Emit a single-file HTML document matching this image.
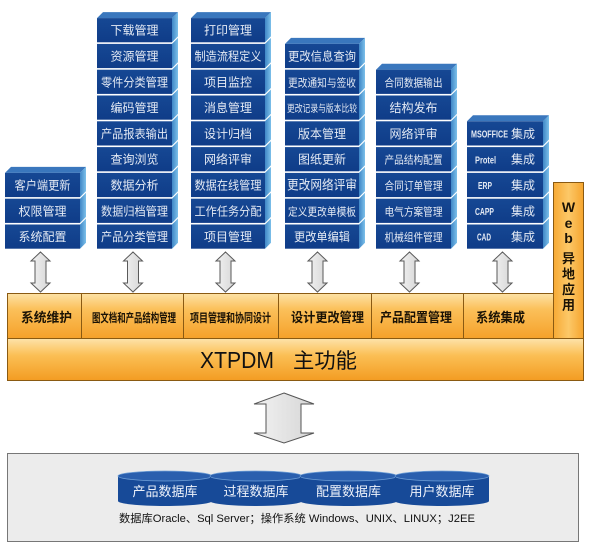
<!DOCTYPE html>
<html><head><meta charset="utf-8">
<style>
html,body{margin:0;padding:0;background:#fff;}
svg{display:block;}
text{font-family:"Liberation Sans","Noto Sans CJK SC",sans-serif;}
.b{fill:#e4eaf4;font-size:12px;text-anchor:middle;}
.m{fill:#1a1205;font-size:12px;font-weight:bold;text-anchor:middle;}
</style></head>
<body>
<svg width="600" height="547" viewBox="0 0 600 547" xmlns="http://www.w3.org/2000/svg">
<defs>
<linearGradient id="side" x1="0" y1="0" x2="1" y2="0"><stop offset="0" stop-color="#3f86c6"/><stop offset="1" stop-color="#7cc0ea"/></linearGradient>
<linearGradient id="front" x1="0" y1="0" x2="0" y2="1"><stop offset="0" stop-color="#164894"/><stop offset="1" stop-color="#0f3c88"/></linearGradient>
<linearGradient id="org" x1="0" y1="0" x2="0" y2="1"><stop offset="0" stop-color="#fde2a6"/><stop offset="0.35" stop-color="#fbc05a"/><stop offset="1" stop-color="#f5a12a"/></linearGradient>
<linearGradient id="org2" x1="0" y1="0" x2="0" y2="1"><stop offset="0" stop-color="#fde3aa"/><stop offset="0.4" stop-color="#fbbf55"/><stop offset="1" stop-color="#f39c22"/></linearGradient>
<linearGradient id="web" x1="0" y1="0" x2="1" y2="0"><stop offset="0" stop-color="#f7aa35"/><stop offset="0.5" stop-color="#fcc868"/><stop offset="1" stop-color="#f6a52e"/></linearGradient>
<linearGradient id="arr" x1="0" y1="0" x2="1" y2="0"><stop offset="0" stop-color="#f2f2f2"/><stop offset="1" stop-color="#d6d6d6"/></linearGradient>
</defs>

<!-- ===== Blue block columns ===== -->
<g stroke="none">
<!-- Column 1: x=5 w=75 -->
<polygon points="5,172.9 11,166.9 86,166.9 80,172.9" fill="#3a77bd"/>
<g fill="url(#side)">
<polygon points="80,172.9 86,166.9 86,191.1 80,197.1"/>
<polygon points="80,198.7 86,192.7 86,216.9 80,222.9"/>
<polygon points="80,224.5 86,218.5 86,242.7 80,248.7"/>
</g>
<g fill="url(#front)">
<rect x="5" y="172.9" width="75" height="24.2"/>
<rect x="5" y="198.7" width="75" height="24.2"/>
<rect x="5" y="224.5" width="75" height="24.2"/>
</g>

<!-- Column 2: x=97 w=75 -->
<polygon points="97,18.1 103,12.1 178,12.1 172,18.1" fill="#3a77bd"/>
<g fill="url(#side)">
<polygon points="172,18.1 178,12.1 178,36.3 172,42.3"/>
<polygon points="172,43.9 178,37.9 178,62.1 172,68.1"/>
<polygon points="172,69.7 178,63.7 178,87.9 172,93.9"/>
<polygon points="172,95.5 178,89.5 178,113.7 172,119.7"/>
<polygon points="172,121.3 178,115.3 178,139.5 172,145.5"/>
<polygon points="172,147.1 178,141.1 178,165.3 172,171.3"/>
<polygon points="172,172.9 178,166.9 178,191.1 172,197.1"/>
<polygon points="172,198.7 178,192.7 178,216.9 172,222.9"/>
<polygon points="172,224.5 178,218.5 178,242.7 172,248.7"/>
</g>
<g fill="url(#front)">
<rect x="97" y="18.1" width="75" height="24.2"/>
<rect x="97" y="43.9" width="75" height="24.2"/>
<rect x="97" y="69.7" width="75" height="24.2"/>
<rect x="97" y="95.5" width="75" height="24.2"/>
<rect x="97" y="121.3" width="75" height="24.2"/>
<rect x="97" y="147.1" width="75" height="24.2"/>
<rect x="97" y="172.9" width="75" height="24.2"/>
<rect x="97" y="198.7" width="75" height="24.2"/>
<rect x="97" y="224.5" width="75" height="24.2"/>
</g>

<!-- Column 3: x=191 w=74 -->
<polygon points="191,18.1 197,12.1 271,12.1 265,18.1" fill="#3a77bd"/>
<g fill="url(#side)">
<polygon points="265,18.1 271,12.1 271,36.3 265,42.3"/>
<polygon points="265,43.9 271,37.9 271,62.1 265,68.1"/>
<polygon points="265,69.7 271,63.7 271,87.9 265,93.9"/>
<polygon points="265,95.5 271,89.5 271,113.7 265,119.7"/>
<polygon points="265,121.3 271,115.3 271,139.5 265,145.5"/>
<polygon points="265,147.1 271,141.1 271,165.3 265,171.3"/>
<polygon points="265,172.9 271,166.9 271,191.1 265,197.1"/>
<polygon points="265,198.7 271,192.7 271,216.9 265,222.9"/>
<polygon points="265,224.5 271,218.5 271,242.7 265,248.7"/>
</g>
<g fill="url(#front)">
<rect x="191" y="18.1" width="74" height="24.2"/>
<rect x="191" y="43.9" width="74" height="24.2"/>
<rect x="191" y="69.7" width="74" height="24.2"/>
<rect x="191" y="95.5" width="74" height="24.2"/>
<rect x="191" y="121.3" width="74" height="24.2"/>
<rect x="191" y="147.1" width="74" height="24.2"/>
<rect x="191" y="172.9" width="74" height="24.2"/>
<rect x="191" y="198.7" width="74" height="24.2"/>
<rect x="191" y="224.5" width="74" height="24.2"/>
</g>

<!-- Column 4: x=285 w=74 -->
<polygon points="285,43.9 291,37.9 365,37.9 359,43.9" fill="#3a77bd"/>
<g fill="url(#side)">
<polygon points="359,43.9 365,37.9 365,62.1 359,68.1"/>
<polygon points="359,69.7 365,63.7 365,87.9 359,93.9"/>
<polygon points="359,95.5 365,89.5 365,113.7 359,119.7"/>
<polygon points="359,121.3 365,115.3 365,139.5 359,145.5"/>
<polygon points="359,147.1 365,141.1 365,165.3 359,171.3"/>
<polygon points="359,172.9 365,166.9 365,191.1 359,197.1"/>
<polygon points="359,198.7 365,192.7 365,216.9 359,222.9"/>
<polygon points="359,224.5 365,218.5 365,242.7 359,248.7"/>
</g>
<g fill="url(#front)">
<rect x="285" y="43.9" width="74" height="24.2"/>
<rect x="285" y="69.7" width="74" height="24.2"/>
<rect x="285" y="95.5" width="74" height="24.2"/>
<rect x="285" y="121.3" width="74" height="24.2"/>
<rect x="285" y="147.1" width="74" height="24.2"/>
<rect x="285" y="172.9" width="74" height="24.2"/>
<rect x="285" y="198.7" width="74" height="24.2"/>
<rect x="285" y="224.5" width="74" height="24.2"/>
</g>

<!-- Column 5: x=376 w=75 -->
<polygon points="376,69.7 382,63.7 457,63.7 451,69.7" fill="#3a77bd"/>
<g fill="url(#side)">
<polygon points="451,69.7 457,63.7 457,87.9 451,93.9"/>
<polygon points="451,95.5 457,89.5 457,113.7 451,119.7"/>
<polygon points="451,121.3 457,115.3 457,139.5 451,145.5"/>
<polygon points="451,147.1 457,141.1 457,165.3 451,171.3"/>
<polygon points="451,172.9 457,166.9 457,191.1 451,197.1"/>
<polygon points="451,198.7 457,192.7 457,216.9 451,222.9"/>
<polygon points="451,224.5 457,218.5 457,242.7 451,248.7"/>
</g>
<g fill="url(#front)">
<rect x="376" y="69.7" width="75" height="24.2"/>
<rect x="376" y="95.5" width="75" height="24.2"/>
<rect x="376" y="121.3" width="75" height="24.2"/>
<rect x="376" y="147.1" width="75" height="24.2"/>
<rect x="376" y="172.9" width="75" height="24.2"/>
<rect x="376" y="198.7" width="75" height="24.2"/>
<rect x="376" y="224.5" width="75" height="24.2"/>
</g>

<!-- Column 6: x=467 w=76 -->
<polygon points="467,121.3 473,115.3 549,115.3 543,121.3" fill="#3a77bd"/>
<g fill="url(#side)">
<polygon points="543,121.3 549,115.3 549,139.5 543,145.5"/>
<polygon points="543,147.1 549,141.1 549,165.3 543,171.3"/>
<polygon points="543,172.9 549,166.9 549,191.1 543,197.1"/>
<polygon points="543,198.7 549,192.7 549,216.9 543,222.9"/>
<polygon points="543,224.5 549,218.5 549,242.7 543,248.7"/>
</g>
<g fill="url(#front)">
<rect x="467" y="121.3" width="76" height="24.2"/>
<rect x="467" y="147.1" width="76" height="24.2"/>
<rect x="467" y="172.9" width="76" height="24.2"/>
<rect x="467" y="198.7" width="76" height="24.2"/>
<rect x="467" y="224.5" width="76" height="24.2"/>
</g>
</g>

<!-- Column texts -->
<text class="b" x="42.5" y="189.5" textLength="56" lengthAdjust="spacingAndGlyphs">客户端更新</text>
<text class="b" x="42.5" y="215.3">权限管理</text>
<text class="b" x="42.5" y="241.1">系统配置</text>

<text class="b" x="134.5" y="34.7">下载管理</text>
<text class="b" x="134.5" y="60.5">资源管理</text>
<text class="b" x="134.5" y="86.3" textLength="67" lengthAdjust="spacingAndGlyphs">零件分类管理</text>
<text class="b" x="134.5" y="112.1">编码管理</text>
<text class="b" x="134.5" y="137.9" textLength="67" lengthAdjust="spacingAndGlyphs">产品报表输出</text>
<text class="b" x="134.5" y="163.7">查询浏览</text>
<text class="b" x="134.5" y="189.5">数据分析</text>
<text class="b" x="134.5" y="215.3" textLength="67" lengthAdjust="spacingAndGlyphs">数据归档管理</text>
<text class="b" x="134.5" y="241.1" textLength="67" lengthAdjust="spacingAndGlyphs">产品分类管理</text>

<text class="b" x="228" y="34.7">打印管理</text>
<text class="b" x="228" y="60.5" textLength="67" lengthAdjust="spacingAndGlyphs">制造流程定义</text>
<text class="b" x="228" y="86.3">项目监控</text>
<text class="b" x="228" y="112.1">消息管理</text>
<text class="b" x="228" y="137.9">设计归档</text>
<text class="b" x="228" y="163.7">网络评审</text>
<text class="b" x="228" y="189.5" textLength="67" lengthAdjust="spacingAndGlyphs">数据在线管理</text>
<text class="b" x="228" y="215.3" textLength="67" lengthAdjust="spacingAndGlyphs">工作任务分配</text>
<text class="b" x="228" y="241.1">项目管理</text>

<text class="b" x="322" y="60.5" textLength="68" lengthAdjust="spacingAndGlyphs">更改信息查询</text>
<text class="b" x="322" y="86.3" textLength="68" lengthAdjust="spacingAndGlyphs" style="font-size:11px">更改通知与签收</text>
<text class="b" x="322" y="112.1" textLength="70" lengthAdjust="spacingAndGlyphs" style="font-size:10px">更改记录与版本比较</text>
<text class="b" x="322" y="137.9">版本管理</text>
<text class="b" x="322" y="163.7">图纸更新</text>
<text class="b" x="322" y="189.5" textLength="70" lengthAdjust="spacingAndGlyphs" style="font-size:13px">更改网络评审</text>
<text class="b" x="322" y="215.3" textLength="68" lengthAdjust="spacingAndGlyphs" style="font-size:11px">定义更改单模板</text>
<text class="b" x="322" y="241.1" textLength="56" lengthAdjust="spacingAndGlyphs">更改单编辑</text>

<text class="b" x="413.5" y="86.3" textLength="58" lengthAdjust="spacingAndGlyphs" style="font-size:11px">合同数据输出</text>
<text class="b" x="413.5" y="112.1">结构发布</text>
<text class="b" x="413.5" y="137.9">网络评审</text>
<text class="b" x="413.5" y="163.7" textLength="58" lengthAdjust="spacingAndGlyphs" style="font-size:11px">产品结构配置</text>
<text class="b" x="413.5" y="189.5" textLength="58" lengthAdjust="spacingAndGlyphs" style="font-size:11px">合同订单管理</text>
<text class="b" x="413.5" y="215.3" textLength="58" lengthAdjust="spacingAndGlyphs" style="font-size:11px">电气方案管理</text>
<text class="b" x="413.5" y="241.1" textLength="58" lengthAdjust="spacingAndGlyphs" style="font-size:11px">机械组件管理</text>

<g fill="#e4eaf4" font-size="10" font-weight="bold">
<text x="471" y="137.5" textLength="37" lengthAdjust="spacingAndGlyphs">MSOFFICE</text>
<text x="475" y="163.3" textLength="21" lengthAdjust="spacingAndGlyphs">Protel</text>
<text x="478" y="189.1" textLength="14" lengthAdjust="spacingAndGlyphs">ERP</text>
<text x="475" y="214.9" textLength="19" lengthAdjust="spacingAndGlyphs">CAPP</text>
<text x="477" y="240.7" textLength="14" lengthAdjust="spacingAndGlyphs">CAD</text>
</g>
<g fill="#e4eaf4" font-size="12">
<text x="511" y="137.9">集成</text>
<text x="511" y="163.7">集成</text>
<text x="511" y="189.5">集成</text>
<text x="511" y="215.3">集成</text>
<text x="511" y="241.1">集成</text>
</g>

<!-- Small double arrows -->
<g fill="url(#arr)" stroke="#5a5a5a" stroke-width="1" stroke-linejoin="miter">
<polygon points="40.5,252 50,261 46,261 46,283 50,283 40.5,292 31,283 35,283 35,261 31,261"/>
<polygon points="133,252 142.5,261 138.5,261 138.5,283 142.5,283 133,292 123.5,283 127.5,283 127.5,261 123.5,261"/>
<polygon points="225.5,252 235,261 231,261 231,283 235,283 225.5,292 216,283 220,283 220,261 216,261"/>
<polygon points="317.5,252 327,261 323,261 323,283 327,283 317.5,292 308,283 312,283 312,261 308,261"/>
<polygon points="409.5,252 419,261 415,261 415,283 419,283 409.5,292 400,283 404,283 404,261 400,261"/>
<polygon points="502.5,252 512,261 508,261 508,283 512,283 502.5,292 493,283 497,283 497,261 493,261"/>
</g>

<!-- Orange structure -->
<rect x="553.5" y="182.5" width="30" height="156" fill="url(#web)" stroke="#8a5a12" stroke-width="1"/>
<rect x="7.5" y="293.5" width="546" height="45" fill="url(#org)" stroke="#8a5a12" stroke-width="1"/>
<g stroke="#8a5a12" stroke-width="1">
<line x1="81.5" y1="293.5" x2="81.5" y2="338.5"/>
<line x1="183.5" y1="293.5" x2="183.5" y2="338.5"/>
<line x1="278.5" y1="293.5" x2="278.5" y2="338.5"/>
<line x1="371.5" y1="293.5" x2="371.5" y2="338.5"/>
<line x1="463.5" y1="293.5" x2="463.5" y2="338.5"/>
</g>
<rect x="7.5" y="338.5" width="576" height="42" fill="url(#org2)" stroke="#8a5a12" stroke-width="1"/>

<text class="m" x="46.5" y="322" style="font-size:13px" textLength="51" lengthAdjust="spacingAndGlyphs">系统维护</text>
<text class="m" x="134" y="322" textLength="84" lengthAdjust="spacingAndGlyphs">图文档和产品结构管理</text>
<text class="m" x="230.5" y="322" textLength="81" lengthAdjust="spacingAndGlyphs">项目管理和协同设计</text>
<text class="m" x="327.5" y="322" style="font-size:13px" textLength="73" lengthAdjust="spacingAndGlyphs">设计更改管理</text>
<text class="m" x="416" y="322" style="font-size:13px" textLength="72" lengthAdjust="spacingAndGlyphs">产品配置管理</text>
<text class="m" x="500.5" y="322" style="font-size:13px" textLength="49" lengthAdjust="spacingAndGlyphs">系统集成</text>

<text x="200" y="368" font-size="23" fill="#111" textLength="74" lengthAdjust="spacingAndGlyphs">XTPDM</text>
<text x="293" y="368" font-size="21" fill="#111" textLength="64" lengthAdjust="spacingAndGlyphs">主功能</text>

<g fill="#1a1205" font-size="14" font-weight="bold" text-anchor="middle">
<text x="568.5" y="212">W</text>
<text x="568.5" y="228">e</text>
<text x="568.5" y="243">b</text>
<text x="568.5" y="263" font-size="13">异</text>
<text x="568.5" y="278.5" font-size="13">地</text>
<text x="568.5" y="294" font-size="13">应</text>
<text x="568.5" y="309.5" font-size="13">用</text>
</g>

<!-- Big double arrow -->
<polygon points="284,393 314,404 301,404 301,433 314,433 284,443 254,433 266,433 266,404 254,404" fill="url(#arr)" stroke="#555" stroke-width="1"/>

<!-- Bottom gray box -->
<rect x="7.5" y="453.5" width="571" height="88" fill="#ececec" stroke="#777" stroke-width="1"/>

<!-- Cylinders -->
<g>
<path d="M118,476 L118,501 A47,5 0 0 0 212,501 L212,476 Z" fill="#174a98"/>
<ellipse cx="165" cy="476" rx="47" ry="5" fill="#2a5fae" stroke="#6f9fd6" stroke-width="0.8"/>
<path d="M210,476 L210,501 A46,5 0 0 0 302,501 L302,476 Z" fill="#174a98"/>
<ellipse cx="256" cy="476" rx="46" ry="5" fill="#2a5fae" stroke="#6f9fd6" stroke-width="0.8"/>
<path d="M300,476 L300,501 A48.5,5 0 0 0 397,501 L397,476 Z" fill="#174a98"/>
<ellipse cx="348.5" cy="476" rx="48.5" ry="5" fill="#2a5fae" stroke="#6f9fd6" stroke-width="0.8"/>
<path d="M395,476 L395,501 A47,5 0 0 0 489,501 L489,476 Z" fill="#174a98"/>
<ellipse cx="442" cy="476" rx="47" ry="5" fill="#2a5fae" stroke="#6f9fd6" stroke-width="0.8"/>
</g>
<g fill="#eef2fa" font-size="13" text-anchor="middle">
<text x="165" y="496">产品数据库</text>
<text x="256" y="496">过程数据库</text>
<text x="348.5" y="496">配置数据库</text>
<text x="442" y="496">用户数据库</text>
</g>
<text x="119" y="522" font-size="11" fill="#111" textLength="356" lengthAdjust="spacingAndGlyphs">数据库Oracle、Sql Server；操作系统 Windows、UNIX、LINUX；J2EE</text>
</svg>
</body></html>
